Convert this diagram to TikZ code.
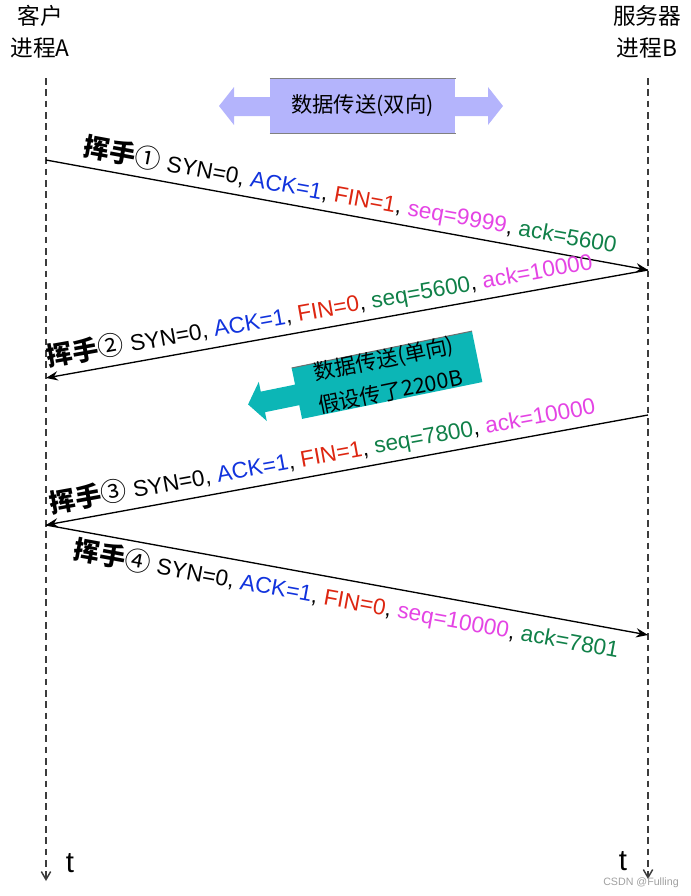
\documentclass[tikz,border=0pt]{standalone}
\usepackage{fontspec}
\setmainfont{Liberation Sans}
\newfontfamily\cjk{Noto Sans CJK SC}
\usetikzlibrary{arrows.meta}

\definecolor{ackblue}{RGB}{17,51,221}
\definecolor{finred}{RGB}{221,38,17}
\definecolor{seqpink}{RGB}{228,68,228}
\definecolor{numgreen}{RGB}{16,128,72}
\definecolor{duplexfill}{RGB}{180,180,252}
\definecolor{simplexfill}{RGB}{12,182,182}

\tikzset{every picture/.style={line width=0.75pt}}
\tikzset{
	lifeline/.style={dash pattern=on 5pt off 3.5pt, line width=1.1pt, color={rgb, 255:red, 60; green, 60; blue, 60}, -{Straight Barb[length=6pt,width=7pt]}},
	msg/.style={line width=1pt, -{Stealth[length=9pt,width=7pt,inset=3pt]}},
	msglabel/.style={font=\fontsize{17}{20}\selectfont, inner sep=4pt},
	procname/.style={font=\cjk\fontsize{17}{24}\selectfont, align=center},
	timelabel/.style={font=\fontsize{22}{24}\selectfont}
}
\newcommand{\wave}[1]{{\cjk\fontsize{19.5}{20}\selectfont{\bfseries 挥手}#1}}

\begin{document}
\begin{tikzpicture}[x=0.75pt,y=0.75pt,yscale=-1,xscale=1]
	\useasboundingbox (0,0) rectangle (691,896);

	% Text Node
	\node (clientA) at (40,32) [procname] {客户\\进程A};
	% Text Node
	\node (serverB) at (647,32) [procname] {服务器\\进程B};

	%lifelines
	\coordinate (topA) at (46,78);
	\coordinate (endA) at (46,881);
	\coordinate (topB) at (648,78);
	\coordinate (endB) at (648,879);
	\draw [lifeline] (topA) -- (endA);
	\draw [lifeline] (topB) -- (endB);

	% Text Node
	\node (tA) at (70,863) [timelabel] {t};
	% Text Node
	\node (tB) at (623,861) [timelabel] {t};

	%Left Right Arrow
	\draw  [draw opacity=0][fill=duplexfill] (219,106) -- (234,87) -- (234,97) -- (488,97) -- (488,87) -- (503,106) -- (488,125) -- (488,116) -- (234,116) -- (234,125) -- cycle ;
	%Shape: Rectangle
	\node (duplex) at (362.5,106) [fill=duplexfill, minimum width=138.75pt, minimum height=40.5pt, font=\cjk\fontsize{16}{20}\selectfont] {数据传送(双向)};
	\draw [color={rgb, 255:red, 128; green, 128; blue, 128 }] (duplex.north west) -- (duplex.north east);
	\draw [color={rgb, 255:red, 128; green, 128; blue, 128 }] (duplex.south west) -- (duplex.south east);

	%Left Arrow Callout
	\begin{scope}[shift={(387,375)}, rotate=-11.55]
		\fill [simplexfill] (-142,1) -- (-127,-19) -- (-127,-9) -- (-92,-9) -- (-92,-26) -- (92,-26) -- (92,26) -- (-92,26) -- (-92,12) -- (-127,12) -- (-127,21) -- cycle ;
		\draw [color={rgb, 255:red, 110; green, 110; blue, 110 }] (-92,-26) -- (92,-26);
	\end{scope}
	% Text Node
	\node (simplex) at (387,375) [rotate=11.55, align=center, font=\cjk\fontsize{16}{25}\selectfont] {数据传送(单向)\\假设传了2200B};

	%handshake points
	\coordinate (a1) at (46,160);
	\coordinate (b1) at (648,270);
	\coordinate (a2) at (46,378);
	\coordinate (b3) at (648,415);
	\coordinate (a3) at (46,525);
	\coordinate (b4) at (648,635);

	\draw [msg] (a1) -- node [msglabel, rotate=-10.35, above, pos=0.5] {\wave{①} SYN=0, \textcolor{ackblue}{ACK=1}, \textcolor{finred}{FIN=1}, \textcolor{seqpink}{seq=9999}, \textcolor{numgreen}{ack=5600}} (b1);
	\draw [msg] (b1) -- node [msglabel, rotate=10.17, above, pos=0.54] {\wave{②} SYN=0, \textcolor{ackblue}{ACK=1}, \textcolor{finred}{FIN=0}, \textcolor{numgreen}{seq=5600}, \textcolor{seqpink}{ack=10000}} (a2);
	\draw [msg] (b3) -- node [msglabel, rotate=10.35, above, pos=0.535] {\wave{③} SYN=0, \textcolor{ackblue}{ACK=1}, \textcolor{finred}{FIN=1}, \textcolor{numgreen}{seq=7800}, \textcolor{seqpink}{ack=10000}} (a3);
	\draw [msg] (a3) -- node [msglabel, rotate=-10.35, below, pos=0.505] {\wave{④} SYN=0, \textcolor{ackblue}{ACK=1}, \textcolor{finred}{FIN=0}, \textcolor{seqpink}{seq=10000}, \textcolor{numgreen}{ack=7801}} (b4);

	% Text Node
	\node (mark) at (641,883) [font=\fontsize{8}{9}\selectfont, color={rgb, 255:red, 160; green, 160; blue, 160 }] {CSDN @Fulling};

\end{tikzpicture}
\end{document}
